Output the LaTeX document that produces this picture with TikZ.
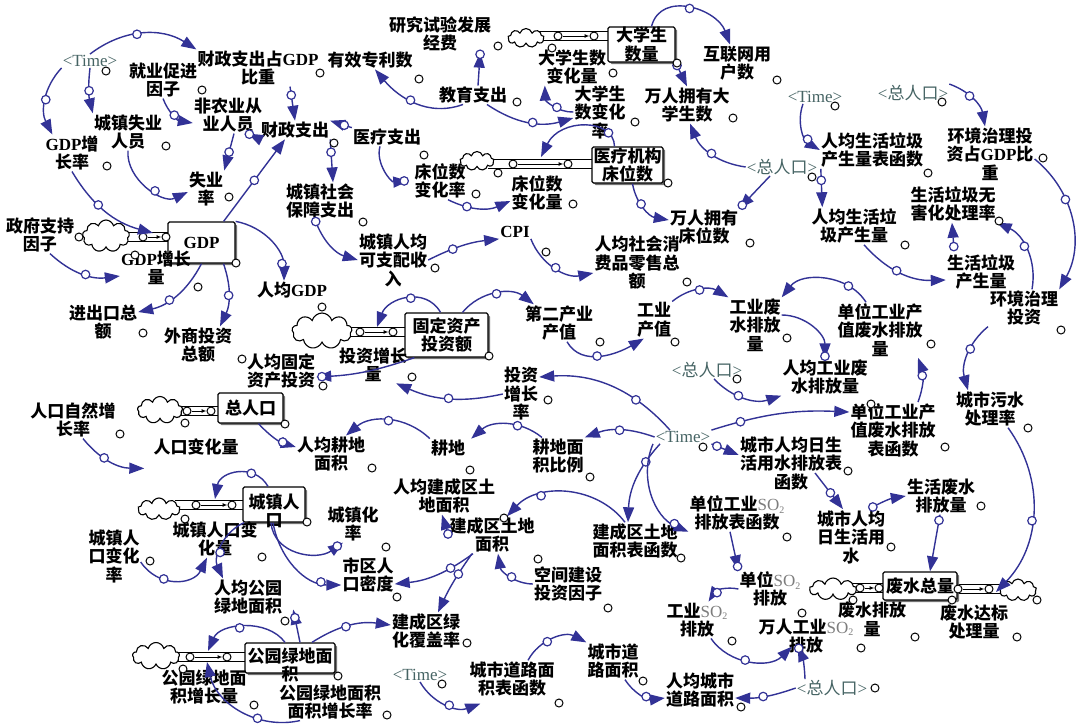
\documentclass[tikz,border=0pt]{standalone}
\usepackage{fontspec}
\setmainfont{Noto Sans CJK SC}
\newfontfamily\lat{Liberation Serif}
\usetikzlibrary{arrows.meta,shapes.symbols,shadows}
\pgfdeclarelayer{bg}
\pgfsetlayers{bg,main}
\definecolor{ablue}{RGB}{50,50,150}
\definecolor{tcol}{RGB}{70,100,100}
\definecolor{sogray}{RGB}{125,125,125}
\newcommand\vf{\fontsize{17}{18.5}\selectfont}
\newcommand\gdpt{{\lat GDP}}
\newcommand\SOt{{\color{sogray}\mdseries\lat SO\raisebox{-0.35ex}{\fontsize{10}{10}\selectfont 2}}}
\newcommand\tmv{{\lat <Time>}}
\newcommand\zrkv{{\lat <}总人口{\lat >}}
\begin{document}
\begin{tikzpicture}[x=1pt,y=1pt,
 v/.style={font=\vf\bfseries, align=center, inner sep=1pt, text=black},
 sv/.style={font=\vf, align=center, inner sep=1pt, text=tcol},
 stockbox/.style={draw, line width=1.3pt, fill=white, rounded corners=1.5pt, align=center, font=\vf\bfseries, inner sep=0pt, drop shadow={shadow xshift=2.2pt, shadow yshift=-2.2pt, fill=black!55, opacity=1}},
 cl/.style={cloud, cloud puffs=9, cloud ignores aspect, draw, fill=white, line width=1.1pt, inner sep=0pt},
 pipe/.style={double=white, double distance=8pt, line width=1.2pt, draw=black},
 valve/.style={circle, draw=black, fill=white, line width=1pt, minimum size=8pt, inner sep=0pt},
 hc/.style={circle, draw=black, fill=white, line width=1pt, minimum size=8pt, inner sep=0pt},
 ac/.style={circle, draw=ablue, fill=white, line width=1.2pt, minimum size=8.5pt, inner sep=0pt},
 lk/.style={draw=ablue, line width=1.4pt, -{Triangle[length=15pt,width=11pt]}},
 fl/.style={-{Latex[length=5pt,width=4pt]}, line width=1pt}]
\useasboundingbox (0,0) rectangle (1084,-724);

% ---------- stocks
\node[stockbox, minimum width=67pt, minimum height=35pt] (dxsl) at (641.5,-44.5) {大学生\\数量};
\node[stockbox, minimum width=71pt, minimum height=36pt] (ylcw) at (627.5,-165) {医疗机构\\床位数};
\node[stockbox, minimum width=67pt, minimum height=41pt] (gdpb) at (201.5,-242.5) {\gdpt};
\node[stockbox, minimum width=83pt, minimum height=44pt] (gdzc) at (446.5,-335) {固定资产\\投资额};
\node[stockbox, minimum width=65pt, minimum height=30pt] (zrkb) at (250.5,-408) {总人口};
\node[stockbox, minimum width=62pt, minimum height=35pt] (czrk) at (274,-504.5) {};
\node[v] (czrkt) at (274,-511) {城镇人\\口};
\node[stockbox, minimum width=90pt, minimum height=30pt] (gyld) at (290,-658) {};
\node[v] (gyldt) at (290,-665) {公园绿地面\\积};
\node[stockbox, minimum width=74pt, minimum height=28pt] (fwzl) at (920,-586) {废水总量};

% ---------- clouds
\node[cl, minimum width=36pt, minimum height=19pt] (cl1) at (526,-38) {};
\node[cl, minimum width=34pt, minimum height=19pt] (cl2) at (477,-161) {};
\node[cl, minimum width=47pt, minimum height=32pt] (cl3) at (106,-236) {};
\node[cl, minimum width=60pt, minimum height=36pt] (cl4) at (322,-331) {};
\node[cl, minimum width=45pt, minimum height=27pt] (cl5) at (160,-410) {};
\node[cl, minimum width=42pt, minimum height=22pt] (cl6) at (159,-509) {};
\node[cl, minimum width=47pt, minimum height=27pt] (cl7) at (156,-656) {};
\node[cl, minimum width=47pt, minimum height=22pt] (cl8) at (833,-589) {};
\node[cl, minimum width=37pt, minimum height=22pt] (cl9) at (1018,-590) {};

% ---------- valves
\node[valve] (va1) at (558,-36) {};  \node[valve] (vb1) at (594,-36) {};
\node[valve] (va2) at (513,-164) {}; \node[valve] (vb2) at (568,-164) {};
\node[valve] (va3) at (143,-237) {}; \node[valve] (vb3) at (166,-237) {};
\node[valve] (va4) at (360,-332) {}; \node[valve] (vb4) at (393,-332) {};
\node[valve] (va5) at (187,-411) {}; \node[valve] (vb5) at (211,-411) {};
\node[valve] (va6) at (196,-505) {}; \node[valve] (vb6) at (232,-505) {};
\node[valve] (va7) at (190,-657) {}; \node[valve] (vb7) at (227,-657) {};
\node[valve] (va8) at (860,-588) {}; \node[valve] (vb8) at (879,-588) {};
\node[valve] (va9) at (958,-589) {}; \node[valve] (vb9) at (989,-589) {};
\foreach \i in {1,...,9} \draw[fl] (va\i) -- (vb\i);

\begin{pgfonlayer}{bg}
\fill[white] (0,0) rectangle (1084,-724);
\draw[pipe] ([xshift=-6pt]cl1.east |- va1) -- ([xshift=3pt]dxsl.west |- va1);
\draw[pipe] ([xshift=-6pt]cl2.east |- va2) -- ([xshift=3pt]ylcw.west |- va2);
\draw[pipe] ([xshift=-6pt]cl3.east |- va3) -- ([xshift=3pt]gdpb.west |- va3);
\draw[pipe] ([xshift=-6pt]cl4.east |- va4) -- ([xshift=3pt]gdzc.west |- va4);
\draw[pipe] ([xshift=-6pt]cl5.east |- va5) -- ([xshift=3pt]zrkb.west |- va5);
\draw[pipe] ([xshift=-6pt]cl6.east |- va6) -- ([xshift=3pt]czrk.west |- va6);
\draw[pipe] ([xshift=-6pt]cl7.east |- va7) -- ([xshift=3pt]gyld.west |- va7);
\draw[pipe] ([xshift=-6pt]cl8.east |- va8) -- ([xshift=3pt]fwzl.west |- va8);
\draw[pipe] ([xshift=-3pt]fwzl.east |- va9) -- ([xshift=6pt]cl9.west |- va9);
\end{pgfonlayer}

% ---------- variables
\node[sv] (time1) at (90,-61) {\tmv};
\node[v] (czgdp) at (258,-68) {财政支出占\gdpt\\比重};
\node[v] (yxzl) at (370,-60) {有效专利数};
\node[v] (jycj) at (163,-80) {就业促进\\因子};
\node[v] (fny) at (228,-115) {非农业从\\业人员};
\node[v] (czsy) at (128,-132) {城镇失业\\人员};
\node[v] (gdpzzl) at (72,-153) {\gdpt 增\\长率};
\node[v] (sy) at (206,-189) {失业\\率};
\node[v] (czzc) at (295,-130) {财政支出};
\node[v] (ylzc) at (387,-137) {医疗支出};
\node[v] (czsb) at (320,-201) {城镇社会\\保障支出};
\node[v] (yjjf) at (440,-34) {研究试验发展\\经费};
\node[v] (jyzc) at (473,-95) {教育支出};
\node[v] (dxbh) at (572,-67) {大学生数\\变化量};
\node[v] (dxbl) at (600,-112) {大学生\\数变化\\率};
\node[v] (hlw) at (737,-63) {互联网用\\户数};
\node[v] (wrdx) at (687,-105) {万人拥有大\\学生数};
\node[sv] (time2) at (815,-97) {\tmv};
\node[sv] (zrk1) at (913,-93) {\zrkv};
\node[v] (cwbl) at (440,-181) {床位数\\变化率};
\node[v] (cwbh) at (537,-193) {床位数\\变化量};
\node[v] (wrcw) at (704,-227) {万人拥有\\床位数};
\node[sv] (zrk2) at (782,-167) {\zrkv};
\node[v] (rjljb) at (872,-150) {人均生活垃圾\\产生量表函数};
\node[v] (hjzb) at (990,-154) {环境治理投\\资占\gdpt 比\\重};
\node[v] (rjlj) at (854,-226) {人均生活垃\\圾产生量};
\node[v] (whl) at (953,-204) {生活垃圾无\\害化处理率};
\node[v] (shlj) at (981,-272) {生活垃圾\\产生量};
\node[v] (hjtz) at (1024,-308) {环境治理\\投资};
\node[v] (zfzc) at (40,-235) {政府支持\\因子};
\node[v] (gdpzl) at (156,-268) {\gdpt 增长\\量};
\node[v] (rjgdp) at (292,-290) {人均\gdpt};
\node[v] (jck) at (103,-322) {进出口总\\额};
\node[v] (wstz) at (198,-345) {外商投资\\总额};
\node[v] (czsr) at (393,-260) {城镇人均\\可支配收\\入};
\node[v] (cpi) at (515,-232) {{\lat CPI}};
\node[v] (rjxf) at (637,-263) {人均社会消\\费品零售总\\额};
\node[v] (dejc) at (559,-323) {第二产业\\产值};
\node[v] (gycz) at (654,-320) {工业\\产值};
\node[v] (gyfs) at (755,-325) {工业废\\水排放\\量};
\node[v] (dwfs) at (880,-330) {单位工业产\\值废水排放\\量};
\node[v] (rjgyfs) at (825,-377) {人均工业废\\水排放量};
\node[sv] (zrk3) at (707,-370) {\zrkv};
\node[v] (tzzl) at (373,-365) {投资增长\\量};
\node[v] (rjgdz) at (281,-371) {人均固定\\资产投资};
\node[v] (tzzz) at (521,-394) {投资\\增长\\率};
\node[v] (wsl) at (990,-409) {城市污水\\处理率};
\node[v] (dwfsb) at (893,-430) {单位工业产\\值废水排放\\表函数};
\node[v] (rkzr) at (73,-420) {人口自然增\\长率};
\node[v] (rkbh) at (196,-447) {人口变化量};
\node[v] (rjgd) at (331,-454) {人均耕地\\面积};
\node[v] (gd) at (448,-448) {耕地};
\node[v] (gdbl) at (558,-456) {耕地面\\积比例};
\node[sv] (time3) at (683,-437) {\tmv};
\node[v] (rjsyb) at (791,-463) {城市人均日生\\活用水排放表\\函数};
\node[v] (shfs) at (941,-496) {生活废水\\排放量};
\node[v] (rjsy) at (851,-537) {城市人均\\日生活用\\水};
\node[v] (so2b) at (737,-513) {单位工业\SOt\\排放表函数};
\node[v] (jcb) at (635,-541) {建成区土地\\面积表函数};
\node[v] (rjjc) at (444,-496) {人均建成区土\\地面积};
\node[v] (jcmj) at (492,-535) {建成区土地\\面积};
\node[v] (czhl) at (353,-524) {城镇化\\率};
\node[v] (sqmd) at (368,-575) {市区人\\口密度};
\node[v] (czbh) at (215,-539) {城镇人口变\\化量};
\node[v] (czbhl) at (114,-556) {城镇人\\口变化\\率};
\node[v] (rjgy) at (248,-597) {人均公园\\绿地面积};
\node[v] (kjjs) at (568,-584) {空间建设\\投资因子};
\node[v] (dwso2) at (770,-589) {单位\SOt\\排放};
\node[v] (gyso2) at (697,-620) {工业\SOt\\排放};
\node[v] (wrso2) at (806,-636) {万人工业\SOt\\排放};
\node[v] (fwpf) at (872,-619) {废水排放\\量};
\node[v] (fwdb) at (974,-622) {废水达标\\处理量};
\node[v] (lhfg) at (426,-631) {建成区绿\\化覆盖率};
\node[v] (gylzl) at (204,-687) {公园绿地面\\积增长量};
\node[v] (gylzzl) at (330,-702) {公园绿地面积\\面积增长率};
\node[sv] (time4) at (420,-675) {\tmv};
\node[v] (csdlb) at (512,-679) {城市道路面\\积表函数};
\node[v] (csdl) at (613,-661) {城市道\\路面积};
\node[v] (rjdl) at (700,-690) {人均城市\\道路面积};
\node[sv] (zrk4) at (832,-688) {\zrkv};

% ---------- flow targets
\coordinate (fv2) at (541,-157);
\coordinate (fv3) at (153,-233);
\coordinate (fv4) at (377,-327);
\coordinate (fv6) at (215,-499);
\coordinate (fv7) at (208,-651);
\coordinate (fv7b) at (207,-662);
\coordinate (fv9) at (996,-592);

% ---------- links
\draw[lk] (time1.north) to[bend left=35] node[ac,pos=.45] (k1) {} (czgdp.north west);
\draw[lk] (time1.south west) to[bend right=35] node[ac] (k2) {} ([xshift=8pt]gdpzzl.north west);
\draw[lk] (time1.south) to[bend right=10] node[ac] (k3) {} (czsy.north west);
\draw[lk] (jycj.south) to[bend right=30] node[ac] (k4) {} ([yshift=-8pt]fny.west);
\draw[lk] ([xshift=32pt]czgdp.south) to node[ac,pos=.25] (k5) {} (czzc.north);
\draw[lk] (czsy.south) to[bend right=60] node[ac,pos=.6] (k6) {} ([yshift=-3pt]sy.west);
\draw[lk] ([xshift=6pt]fny.south) -- node[ac] (k7) {} (sy.north east);
\draw[lk] (czzc.south west) -- node[ac,pos=.9] (k8) {} ([xshift=-15pt]fny.south east);
\draw[lk] (ylzc.north west) -- node[ac,pos=.35] (k9) {} (czzc.north east);
\draw[lk] ([xshift=-12pt]gdpb.north east) -- node[ac] (k10) {} ([xshift=-10pt]czzc.south);
\draw[lk] (gdpzzl.south) to[bend right=22] node[ac,pos=.4] (k11) {} (fv3);
\draw[lk] ([xshift=10pt]zfzc.south) to[bend right=25] node[ac,pos=.55] (k12) {} ([yshift=-8pt]gdpzl.west);
\draw[lk] (gdpb.north east) to[bend left=40] node[ac,pos=.8] (k13) {} ([xshift=-8pt]rjgdp.north);
\draw[lk] (gdpb.south) to[bend left=25] node[ac,pos=.6] (k14) {} ([yshift=10pt]jck.east);
\draw[lk] ([xshift=22pt]gdpb.south) to[bend left=22] node[ac] (k15) {} ([xshift=22pt]wstz.north);
\draw[lk] (czzc.south east) -- node[ac,pos=.3] (k16) {} ([xshift=13pt]czsb.north);
\draw[lk] ([xshift=-5pt]czsb.south) to[bend right=27] node[ac,pos=.03] (k17) {} (czsr.west);
\draw[lk] (czsr.east) to[bend left=10] node[ac,pos=.35] (k18) {} (cpi.south west);
\draw[lk] (cpi.south east) to[bend right=40] node[ac,pos=.5] (k19) {} ([yshift=-10pt]rjxf.west);
\draw[lk] ([xshift=-7pt]ylzc.south) to[bend right=55] node[ac,pos=.92] (k20) {} ([xshift=-5pt]cwbl.west);
\draw[lk] ([xshift=8pt]cwbl.south) to[bend right=25] node[ac,pos=.3] (k21) {} ([yshift=-8pt]cwbh.west);
\draw[lk] ([xshift=-10pt]jyzc.south) to[out=200,in=310] node[ac,pos=.55] (k22) {} ([xshift=5pt]yxzl.south);
\draw[lk] ([xshift=5pt]jyzc.north) -- node[ac,pos=.95] (k23) {} ([xshift=-12pt]yjjf.south east);
\draw[lk] ([xshift=14pt]jyzc.south) to[bend right=25] node[ac,pos=.55] (k24) {} ([yshift=-6pt]dxbl.west);
\draw[lk] (dxbl.west) to[bend left=45] node[ac,pos=.4] (k25) {} ([xshift=8pt]dxbh.south west);
\draw[lk] ([xshift=-13pt]ylcw.north) .. controls (614,-118) and (560,-118) .. node[ac,pos=.2] (k26) {} (fv2);
\draw[lk] ([xshift=5pt]ylcw.south) to[bend right=35] node[ac,pos=.4] (k27) {} ([yshift=7pt]wrcw.west);
\draw[lk] ([xshift=10pt]dxsl.north) to[out=75,in=110,looseness=1.2] node[ac,pos=.5] (k28) {} ([xshift=-7pt]hlw.north);
\draw[lk] (dxsl.south east) -- node[ac,pos=.12] (k29) {} (wrdx.north);
\draw[lk] (zrk2.west) to[bend left=30] node[ac] (k30) {} ([xshift=3pt]wrdx.south);
\draw[lk] ([xshift=-12pt]zrk2.south) -- node[ac,pos=.9] (k31) {} (wrcw.north east);
\draw[lk] ([xshift=-12pt]time2.south) to[bend right=40] node[ac,pos=.7] (k32) {} (rjljb.west);
\draw[lk] ([xshift=1pt]rjljb.south west) -- node[ac,pos=.3] (k33) {} ([xshift=12pt]rjlj.north west);
\draw[lk] (zrk1.north east) to[bend left=30] node[ac,pos=.4] (k34) {} ([xshift=-5pt]hjzb.north);
\draw[lk] ([yshift=-5pt]hjzb.east) to[bend left=40] node[ac,pos=.35] (k35) {} (hjtz.north east);
\draw[lk] ([xshift=10pt]rjlj.south) to[bend right=25] node[ac,pos=.45] (k36) {} ([yshift=-8pt]shlj.west);
\draw[lk] ([xshift=-27pt,yshift=4pt]shlj.north) -- node[ac,pos=.1] (k37) {} ([xshift=-1pt]whl.south);
\draw[lk] ([xshift=8pt]hjtz.north) to[bend right=38] node[ac,pos=.55] (k38) {} (whl.south east);
\draw[lk] ([xshift=-36pt]hjtz.south) to[bend right=33] node[ac,pos=.4] (k39) {} ([xshift=-22pt]wsl.north);
\draw[lk] ([xshift=18pt]wsl.south) to[bend left=40] node[ac,pos=.55] (k40) {} (fv9);
\draw[lk] ([xshift=-14pt]dwfs.north) to[bend right=55] node[ac,pos=.25] (k41) {} (gyfs.north east);
\draw[lk] (gycz.north east) to[bend left=35] node[ac,pos=.5] (k42) {} (gyfs.north west);
\draw[lk] ([yshift=10pt]gyfs.east) to[bend left=45] node[ac,pos=.97] (k43) {} (rjgyfs.north);
\draw[lk] ([xshift=7pt]zrk3.south) to[bend right=32] node[ac,pos=.4] (k44) {} (rjgyfs.south west);
\draw[lk] ([xshift=25pt]dwfsb.north) to[bend right=20] node[ac,pos=.6] (k45) {} ([xshift=38pt]dwfs.south);
\draw[lk] (time3.north east) to[bend left=10] node[ac,pos=.2] (k46) {} ([yshift=-10pt]dwfsb.north west);
\draw[lk] (time3.south east) -- node[ac,pos=.2] (k47) {} ([yshift=8pt]rjsyb.west);
\draw[lk] ([xshift=24pt,yshift=18pt]rjsyb.south) -- node[ac,pos=.55] (k48) {} ([xshift=-8pt]rjsy.north);
\draw[lk] ([xshift=18pt]rjsy.north) to[bend left=10] node[ac,pos=.1] (k49) {} (shfs.west);
\draw[lk] ([xshift=-1pt]shfs.south) -- node[ac,pos=.1] (k50) {} ([xshift=10pt]fwzl.north);
\draw[lk] ([xshift=-13pt]time3.north) to[bend right=26] node[ac,pos=.3] (k52) {} ([yshift=17pt]tzzz.east);
\draw[lk] (time3.west) to[bend right=20] node[ac,pos=.5] (k53) {} (gdbl.north east);
\draw[lk] ([xshift=-23pt]time3.south) to[bend right=20] node[ac,pos=.25] (k54) {} ([xshift=-7pt]jcb.north);
\draw[lk] ([xshift=-30pt]time3.south) to[bend right=45] node[ac,pos=.85] (k55) {} (so2b.south west);
\draw[lk] ([xshift=-7pt]so2b.south) -- node[ac,pos=.9] (k56) {} (dwso2.north west);
\draw[lk] (dwso2.west) to[bend right=35] node[ac,pos=.65] (k57) {} ([xshift=-20pt]gyso2.north east);
\draw[lk] ([xshift=14pt]gyso2.south) to[bend right=50] node[ac,pos=.45] (k58) {} ([xshift=-14pt,yshift=8pt]wrso2.south);
\draw[lk] ([xshift=-27pt]zrk4.north) to[bend right=10] node[ac,pos=.95] (k59) {} ([xshift=-8pt,yshift=8pt]wrso2.south);
\draw[lk] (zrk4.west) to[bend left=10] node[ac,pos=.55] (k60) {} ([yshift=-8pt]rjdl.east);
\draw[lk] ([xshift=12pt]csdl.south) to[bend right=32] node[ac,pos=.6] (k61) {} ([yshift=-8pt]rjdl.west);
\draw[lk] ([xshift=16pt]csdlb.north) to[bend left=45] node[ac,pos=.4] (k62) {} (csdl.north west);
\draw[lk] (time4.south) to[bend right=40] node[ac,pos=.55] (k63) {} ([xshift=12pt,yshift=-6pt]csdlb.south west);
\draw[lk] ([xshift=-10pt]jcb.north) to[bend right=50] node[ac,pos=.7] (k64) {} ([xshift=15pt]jcmj.north);
\draw[lk] (jcmj.west) -- node[ac,pos=.05] (k65) {} ([xshift=-2pt]rjjc.south);
\draw[lk] (kjjs.west) to[bend left=40] node[ac,pos=.45] (k66) {} ([xshift=6pt]jcmj.south);
\draw[lk] ([xshift=-19pt]jcmj.south) to[bend left=15] node[ac,pos=.3] (k67) {} ([yshift=-9pt]sqmd.east);
\draw[lk] ([xshift=-20pt]jcmj.south) to[bend right=5] node[ac,pos=.35] (k68) {} ([xshift=12pt]lhfg.north);
\draw[lk] ([xshift=22pt]gyld.north) to[bend left=20] node[ac,pos=.45] (k69) {} ([yshift=6pt]lhfg.west);
\draw[lk] ([xshift=10pt]gyld.north) -- node[ac,pos=.75] (k70) {} ([xshift=10pt,yshift=6pt]rjgy.south east);
\draw[lk] ([xshift=-5pt]gyld.north) to[bend right=60] node[ac,pos=.55] (k71) {} (fv7);
\draw[lk] ([xshift=-30pt]gylzzl.south) to[bend left=45] node[ac,pos=.35] (k72) {} (fv7b);
\draw[lk] ([yshift=-6pt]czbhl.east) to[bend right=60,looseness=1.2] node[ac,pos=.35] (k73) {} ([xshift=-8pt]czbh.south);
\draw[lk] ([xshift=-6pt]czrk.north) to[out=120,in=80,looseness=1.3] node[ac,pos=.3] (k74) {} (fv6);
\draw[lk] ([xshift=-30pt]czrk.south) to[bend right=45] node[ac,pos=.6] (k75) {} ([xshift=-25pt]rjgy.north);
\draw[lk] ([xshift=-3pt]czrk.south) to[out=-85,in=215,looseness=1.1] node[ac,pos=.93] (k76) {} ([xshift=-10pt]czhl.south);
\draw[lk] ([xshift=-1pt]czrk.south) to[out=-80,in=180] node[ac,pos=.8] (k77) {} ([yshift=-10pt]sqmd.west);
\draw[lk] ([xshift=10pt]rkzr.south) to[bend right=25] node[ac,pos=.4] (k78) {} ([xshift=-8pt,yshift=-12pt]rkbh.south west);
\draw[lk] ([xshift=8pt]zrkb.south) to[bend right=15] node[ac,pos=.7] (k79) {} ([yshift=7pt]rjgd.west);
\draw[lk] (gd.north west) to[bend right=42] node[ac,pos=.5] (k80) {} ([xshift=15pt]rjgd.north);
\draw[lk] ([xshift=-16pt]gdbl.north) to[bend right=40] node[ac,pos=.35] (k81) {} ([xshift=5pt]gd.north east);
\draw[lk] (tzzz.west) to[bend left=18] node[ac,pos=.5] (k82) {} ([xshift=-12pt]tzzl.south east);
\draw[lk] ([xshift=10pt]gdzc.south west) to[bend left=8] node[ac,pos=.95] (k83) {} ([yshift=-6pt]rjgdz.east);
\draw[lk] ([xshift=-6pt]gdzc.north) to[out=120,in=70,looseness=1.2] node[ac,pos=.45] (k84) {} (fv4);
\draw[lk] ([xshift=16pt]gdzc.north) to[bend left=44] node[ac,pos=.5] (k85) {} ([xshift=10pt]dejc.north west);
\draw[lk] ([xshift=8pt]dejc.south) to[out=-60,in=210] node[ac,pos=.45] (k86) {} ([xshift=8pt]gycz.south west);

% ---------- variable handles
\foreach \p [count=\i] in {(106,-71),(320,-73),(419,-79),(202,-90),(166,-146),(107,-166),(229,-197),(334,-143),(424,-155),(363,-222),(498,-46),(517,-102),(613,-73),(635,-122),(552,-48),(677,-63),(777,-80),(733,-118),(835,-106),(942,-102),(498,-173),(476,-194),(573,-204),(668,-183),(750,-243),(812,-177),(928,-173),(1043,-158),(905,-245),(999,-221),(1061,-330),(787,-338),(931,-344),(737,-379),(871,-404),(945,-447),(1028,-428),(848,-471),(981,-506),(891,-547),(787,-537),(703,-447),(681,-558),(590,-477),(470,-470),(372,-468),(548,-400),(412,-377),(489,-356),(242,-359),(323,-386),(322,-307),(143,-333),(198,-287),(135,-255),(79,-237),(236,-263),(435,-268),(546,-252),(687,-282),(600,-342),(675,-342),(120,-434),(185,-423),(285,-424),(185,-519),(307,-522),(386,-547),(262,-557),(150,-561),(397,-597),(285,-621),(183,-669),(338,-676),(254,-705),(387,-715),(504,-518),(538,-559),(608,-608),(467,-643),(442,-684),(559,-703),(643,-681),(741,-707),(875,-688),(861,-648),(802,-613),(732,-641),(853,-600),(952,-600),(915,-637),(1017,-637),(1037,-600)}
  \node[hc] (h\i) at \p {};
\end{tikzpicture}
\end{document}
